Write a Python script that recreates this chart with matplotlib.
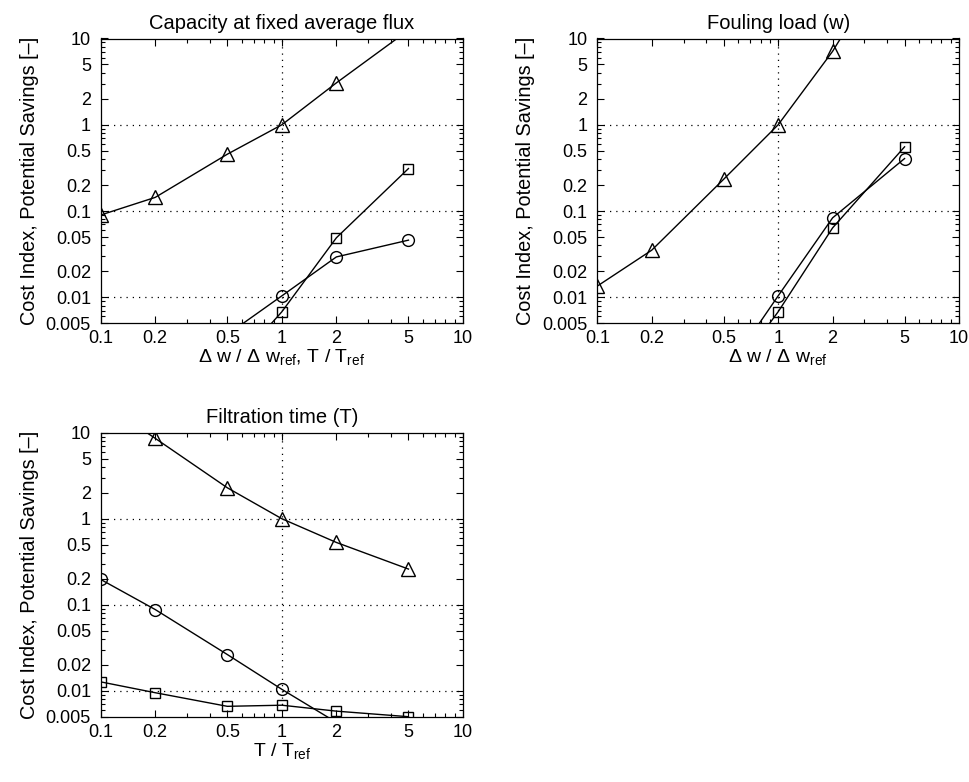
import matplotlib
matplotlib.use("Agg")
import matplotlib.pyplot as plt
from matplotlib.ticker import FixedLocator, NullFormatter, LogLocator
import numpy as np

plt.rcParams['font.family'] = ['Liberation Sans', 'DejaVu Sans']
plt.rcParams['mathtext.fontset'] = 'custom'
plt.rcParams['mathtext.rm'] = 'Liberation Sans'
plt.rcParams['mathtext.it'] = 'Liberation Sans:italic'

# relative change of each parameter
x = [0.1, 0.2, 0.5, 1, 2, 5]

# capacity at fixed average flux
cap_tri = [0.09, 0.144, 0.456, 1.0, 3.06, 12.5]
cap_sq_x = [0.5, 1, 2, 5]
cap_sq = [0.00134, 0.0068, 0.049, 0.311]
cap_ci_x = [0.5, 1, 2, 5]
cap_ci = [0.0037, 0.0104, 0.0294, 0.046]

# fouling load (w)
foul_tri = [0.0135, 0.0352, 0.234, 1.0, 7.1, 160.0]
foul_sq_x = [0.5, 1, 2, 5]
foul_sq = [0.00095, 0.0068, 0.0638, 0.555]
foul_ci_x = [0.5, 1, 2, 5]
foul_ci = [0.00125, 0.0104, 0.0834, 0.406]

# filtration time (T)
time_tri = [23.0, 8.6, 2.29, 1.0, 0.53, 0.26]
time_ci = [0.197, 0.088, 0.0264, 0.0104, 0.0043, 0.0013]
time_sq = [0.0127, 0.0095, 0.0066, 0.0068, 0.0058, 0.005]

xticks = [0.1, 0.2, 0.5, 1, 2, 5, 10]
xticklabels = ['0.1', '0.2', '0.5', '1', '2', '5', '10']
yticks = [0.005, 0.01, 0.02, 0.05, 0.1, 0.2, 0.5, 1, 2, 5, 10]
yticklabels = ['0.005', '0.01', '0.02', '0.05', '0.1', '0.2', '0.5', '1', '2', '5', '10']

ylab = 'Cost Index, Potential Savings [\u2013]'
W, H = 970, 782
fig = plt.figure(figsize=(W / 100, H / 100), dpi=100)


def make_ax(left, top, right, bottom):
    return fig.add_axes([left / W, 1 - bottom / H, (right - left) / W, (bottom - top) / H])


def style(ax, title, xlabel):
    ax.set_xscale('log')
    ax.set_yscale('log')
    ax.set_xlim(0.1, 10)
    ax.set_ylim(0.005, 10)
    ax.xaxis.set_major_locator(FixedLocator(xticks))
    ax.set_xticklabels(xticklabels)
    ax.yaxis.set_major_locator(FixedLocator(yticks))
    ax.set_yticklabels(yticklabels)
    ax.xaxis.set_minor_locator(LogLocator(base=10, subs=np.arange(2, 10)))
    ax.yaxis.set_minor_locator(LogLocator(base=10, subs=np.arange(2, 10)))
    ax.xaxis.set_minor_formatter(NullFormatter())
    ax.yaxis.set_minor_formatter(NullFormatter())
    ax.tick_params(which='both', direction='in', top=True, right=True,
                   labelsize=13, width=0.8, color='black')
    ax.tick_params(which='major', length=5)
    ax.tick_params(axis='y', which='major', pad=7)
    ax.tick_params(axis='x', which='major', pad=5)
    ax.tick_params(which='minor', length=3)
    for s in ax.spines.values():
        s.set_linewidth(0.9)
    # dotted grid at the decades only
    for yv in [0.01, 0.1, 1]:
        ax.axhline(yv, color='black', lw=0.9, ls=(0, (1, 4)), zorder=0)
    ax.axvline(1, color='black', lw=0.9, ls=(0, (1, 4)), zorder=0)
    ax.set_title(title, fontsize=14.5, pad=7)
    ax.set_xlabel(xlabel, fontsize=14, labelpad=0)
    ax.set_ylabel(ylab, fontsize=14.3, labelpad=5)


mk = dict(color='black', lw=1.0, mfc='none', mec='black', mew=1.0)
tri = dict(marker='^', ms=10)
sq = dict(marker='s', ms=7)
ci = dict(marker='o', ms=8.5)

ax1 = make_ax(100.7, 38.5, 463, 323.3)
ax1.plot(x, cap_tri, **tri, **mk)
ax1.plot(cap_sq_x, cap_sq, **sq, **mk)
ax1.plot(cap_ci_x, cap_ci, **ci, **mk)
style(ax1, 'Capacity at fixed average flux',
      '\u0394 w / \u0394 w$_{\\mathrm{ref}}$, T / T$_{\\mathrm{ref}}$')

ax2 = make_ax(597.3, 38.5, 959, 323.3)
ax2.plot(x, foul_tri, **tri, **mk)
ax2.plot(foul_sq_x, foul_sq, **sq, **mk)
ax2.plot(foul_ci_x, foul_ci, **ci, **mk)
style(ax2, 'Fouling load (w)', '\u0394 w / \u0394 w$_{\\mathrm{ref}}$')

ax3 = make_ax(100.7, 432.7, 463, 716.7)
ax3.plot(x, time_tri, **tri, **mk)
ax3.plot(x, time_ci, **ci, **mk)
ax3.plot(x, time_sq, **sq, **mk)
style(ax3, 'Filtration time (T)', 'T / T$_{\\mathrm{ref}}$')

fig.savefig('out.png', dpi=100)
